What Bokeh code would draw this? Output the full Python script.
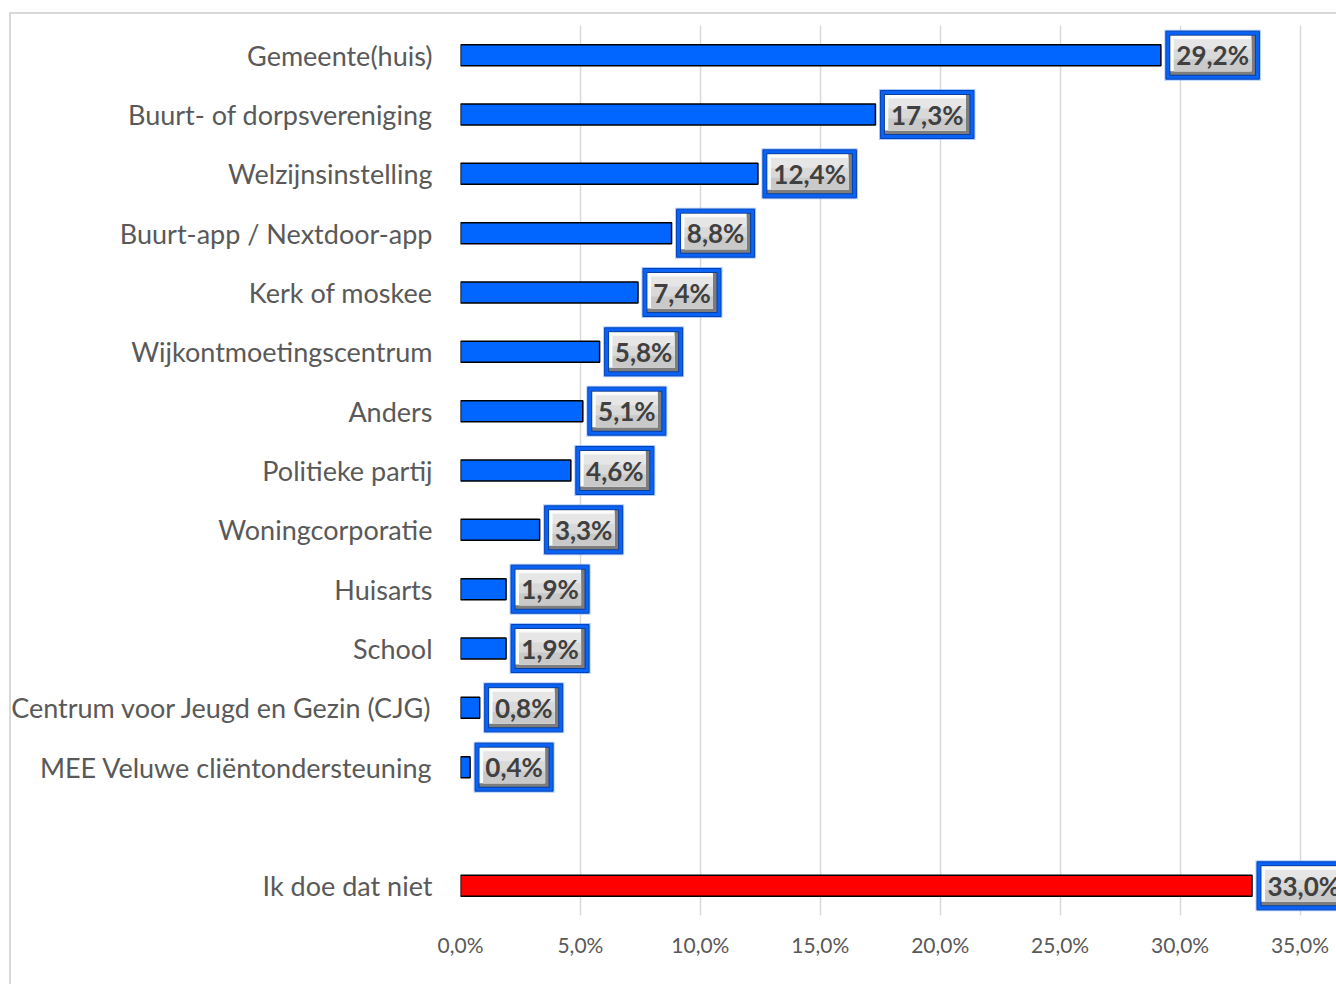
from bokeh.plotting import figure
from bokeh.models import Range1d, FixedTicker, ColumnDataSource
from bokeh.embed import file_html
from bokeh.resources import INLINE
from bokeh.core.properties import value

categories = [
    "Gemeente(huis)",
    "Buurt- of dorpsvereniging",
    "Welzijnsinstelling",
    "Buurt-app / Nextdoor-app",
    "Kerk of moskee",
    "Wijkontmoetingscentrum",
    "Anders",
    "Politieke partij",
    "Woningcorporatie",
    "Huisarts",
    "School",
    "Centrum voor Jeugd en Gezin (CJG)",
    "MEE Veluwe cliëntondersteuning",
    "Ik doe dat niet",
]
values = [29.2, 17.3, 12.4, 8.8, 7.4, 5.8, 5.1, 4.6, 3.3, 1.9, 1.9, 0.8, 0.4, 33.0]
# slot 13 is left empty (gap before the last category)
positions = [0, 1, 2, 3, 4, 5, 6, 7, 8, 9, 10, 11, 12, 14]
x_ticks = [0, 5, 10, 15, 20, 25, 30, 35]
x_tick_labels = ["0,0%", "5,0%", "10,0%", "15,0%", "20,0%", "25,0%", "30,0%", "35,0%"]

# layout (pixels)
FIG_W, FIG_H = 1336, 984
LEFT, TOP, BOTTOM = 460, 25, 69
FRAME_W = FIG_W - LEFT
FRAME_H = FIG_H - TOP - BOTTOM
PX_PER_PCT = 839.5 / 35.0
X_END = FRAME_W / PX_PER_PCT
PX_PER_ROW = FRAME_H / 15.0

BLUE = "#0066FF"
RED = "#FF0000"

border_css = (":host::after { content: ''; position: absolute; left: 9px; top: 12px; "
              "right: 0; bottom: 0; border-left: 2px solid #d9d9d9; "
              "border-top: 2px solid #d9d9d9; pointer-events: none; }")

p = figure(width=FIG_W, height=FIG_H, x_range=Range1d(0, X_END),
           y_range=Range1d(14.5, -0.5), output_backend="svg",
           toolbar_location=None, min_border_left=LEFT, min_border_right=0,
           min_border_top=TOP, min_border_bottom=BOTTOM,
           stylesheets=[border_css])
p.outline_line_color = None
p.background_fill_color = "white"
p.border_fill_color = "white"

p.ygrid.grid_line_color = None
p.xgrid.grid_line_color = "#d9d9d9"
p.xgrid.grid_line_width = 1.5

p.xaxis.ticker = FixedTicker(ticks=x_ticks)
p.xaxis.major_label_overrides = {t: l for t, l in zip(x_ticks, x_tick_labels)}
p.xaxis.axis_line_color = None
p.xaxis.major_tick_line_color = None
p.xaxis.minor_tick_line_color = None
p.xaxis.major_label_text_font = "Lato"
p.xaxis.major_label_text_font_size = "21px"
p.xaxis.major_label_text_color = "#595959"
p.xaxis.major_label_standoff = 10

p.yaxis.ticker = FixedTicker(ticks=positions)
p.yaxis.major_label_overrides = {pos: c for pos, c in zip(positions, categories)}
p.yaxis.axis_line_color = None
p.yaxis.major_tick_line_color = None
p.yaxis.minor_tick_line_color = None
p.yaxis.major_label_text_font = "Lato"
p.yaxis.major_label_text_font_size = "27px"
p.yaxis.major_label_text_color = "#595959"
p.yaxis.major_label_standoff = 22

colors = [RED if c == "Ik doe dat niet" else BLUE for c in categories]
src = ColumnDataSource(dict(y=positions, right=values, color=colors))
p.hbar(y="y", left=0, right="right", height=0.354, fill_color="color",
       line_color="black", line_width=1.5, source=src)

# data label boxes
labels = [f"{v:.1f}".replace(".", ",") + "%" for v in values]
box_w = [15.5 * len(t) + 16 for t in labels]
BOX_H = 48
GAP = 5


def quads(inset_l, inset_t, inset_r, inset_b):
    L, R, T, B = [], [], [], []
    for v, y, w in zip(values, positions, box_w):
        x0 = v + GAP / PX_PER_PCT
        L.append(x0 + inset_l / PX_PER_PCT)
        R.append(x0 + (w - inset_r) / PX_PER_PCT)
        T.append(y - (BOX_H / 2 - inset_t) / PX_PER_ROW)
        B.append(y + (BOX_H / 2 - inset_b) / PX_PER_ROW)
    return L, R, T, B


layers = [
    ((-1.5, -1.5, -1.5, -1.5), "#74a9ff", 0.6, None),
    ((0, 0, 0, 0), "#0b63f6", 1.0, "#0042b8"),
    ((3.5, 3.5, 3.5, 3.5), "#0a3f9e", 1.0, None),
    ((4.5, 4.5, 4.5, 4.5), "#7d7d7d", 1.0, None),
    ((4.5, 4.5, 8, 8), "#fbfbfb", 1.0, None),
    ((8, 8, 8, 8), "#e6e6e6", 1.0, None),
    ((8, 18, 8, 8), "#d9d9d9", 1.0, None),
    ((8, 28, 8, 8), "#c9c9c9", 1.0, None),
]
for (il, it, ir, ib), fc, fa, lc in layers:
    L, R, T, B = quads(il, it, ir, ib)
    p.quad(left=L, right=R, top=T, bottom=B, fill_color=fc, fill_alpha=fa,
           line_color=lc, line_width=1)

cx = [v + (GAP + w / 2) / PX_PER_PCT for v, w in zip(values, box_w)]
p.text(x=cx, y=positions, text=labels, text_align="center", text_baseline="middle",
       text_font=value("Lato"), text_font_style="bold", text_font_size="26px",
       text_color="#404040")

open("out.html", "w").write(file_html(p, INLINE))
